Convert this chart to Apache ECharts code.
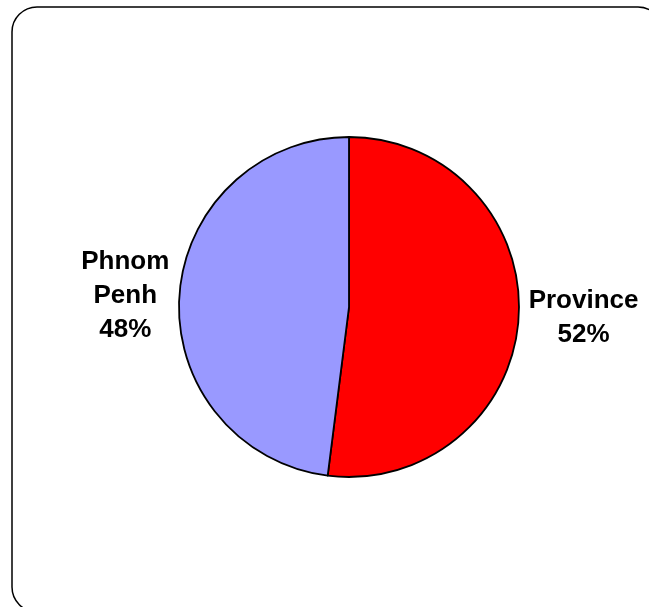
<!DOCTYPE html>
<html>
<head>
<meta charset="utf-8">
<script src="https://cdn.jsdelivr.net/npm/echarts@6/dist/echarts.min.js"></script>
<style>
  html, body { margin: 0; padding: 0; background: #ffffff; }
  #chart { width: 649px; height: 607px; }
</style>
</head>
<body>
<div id="chart"></div>
<script>
// Share of respondents by location
const categories = ['Province', 'Phnom Penh'];
const shares = [52, 48];
const sliceColors = ['#FF0000', '#9999FF'];

const chart = echarts.init(document.getElementById('chart'), null, { renderer: 'canvas' });

const pieData = categories.map((name, i) => ({
  name: name,
  value: shares[i],
  itemStyle: { color: sliceColors[i] }
}));

chart.setOption({
  backgroundColor: '#ffffff',
  animation: false,
  graphic: [{
    type: 'rect',
    shape: { x: 12, y: 7, width: 651, height: 605, r: 25 },
    style: { fill: 'none', stroke: '#000000', lineWidth: 1.5 },
    z: 0
  }],
  series: [{
    type: 'pie',
    center: [349, 307],
    radius: 170,
    startAngle: 90,
    clockwise: true,
    avoidLabelOverlap: false,
    itemStyle: { borderColor: '#000000', borderWidth: 1.8 },
    label: {
      show: true,
      position: 'outside',
      formatter: p => p.name.split(' ').map(w => '{t|' + w + '}').join('\n') + '\n{t|' + p.value + '%}',
      rich: {
        t: {
          align: 'center',
          fontFamily: 'Liberation Sans, Arial, sans-serif',
          fontWeight: 'bold',
          fontSize: 26,
          lineHeight: 34,
          color: '#000000'
        }
      }
    },
    labelLine: { show: false, length: 5, length2: 0 },
    emphasis: { disabled: true },
    data: pieData
  }]
});
</script>
</body>
</html>
